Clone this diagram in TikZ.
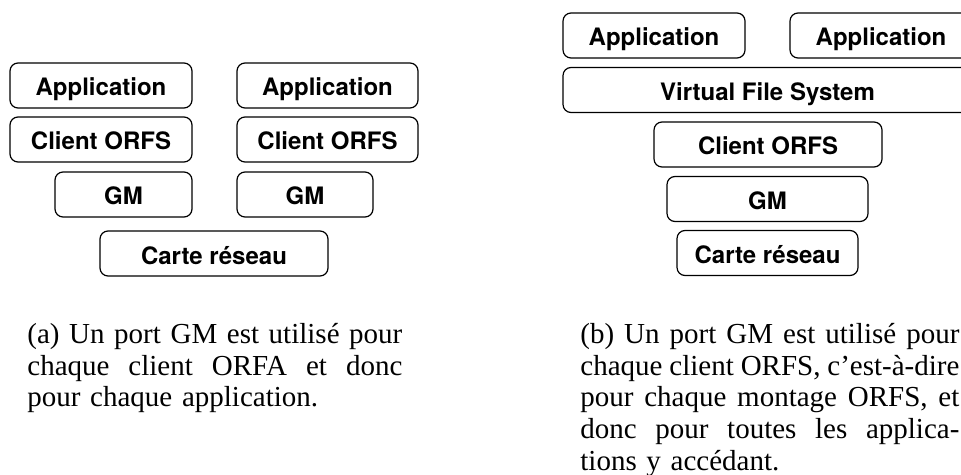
\documentclass[tikz,border=0pt]{standalone}
\usepackage{fontspec}
\setmainfont{Liberation Serif}
\setsansfont{TeX Gyre Heros}
\newcommand\cpl[2]{\leavevmode\hbox to #1{#2}}
\begin{document}
\begin{tikzpicture}[x=0.5pt,y=-0.5pt,
  layer/.style={draw, rounded corners=4pt, line width=0.6pt, inner sep=0pt,
    minimum height=22.5pt, text height=12pt, text depth=1.5pt,
    font=\sffamily\bfseries\fontsize{12}{14}\selectfont},
  captxt/.style={anchor=base west, inner sep=0pt, align=left,
    font=\fontsize{14.5}{15.85}\selectfont}]
\useasboundingbox (0,0) rectangle (961,475);
\clip (0,0) rectangle (961,475);
% (a)
\node[layer, minimum width=91pt]   (appA1) at (101,85.5)   {Application};
\node[layer, minimum width=90.5pt] (appA2) at (327.5,85.5) {Application};
\node[layer, minimum width=91pt]   (cliA1) at (101,139.5)  {Client ORFS};
\node[layer, minimum width=90.5pt] (cliA2) at (327.5,139.5){Client ORFS};
\node[layer, minimum width=68.5pt] (gmA1)  at (123.5,194.5){GM};
\node[layer, minimum width=68pt]   (gmA2)  at (305,194.5)  {GM};
\node[layer, minimum width=114pt]  (netA)  at (214,253.5)  {Carte réseau};
% (b)
\node[layer, minimum width=91pt]   (appB1) at (654,35.5)   {Application};
\node[layer, minimum width=91pt]   (appB2) at (881,35.5)   {Application};
\node[layer, minimum width=204.5pt](vfsB)  at (767.5,90)   {Virtual File System};
\node[layer, minimum width=114pt]  (cliB)  at (768,144.5)  {Client ORFS};
\node[layer, minimum width=100.5pt](gmB)   at (767.5,199)  {GM};
\node[layer, minimum width=90.5pt] (netB)  at (767.5,253)  {Carte réseau};
% captions
\node[captxt, text width=188pt] (capA) at (27,343.5)
  {\cpl{187.5pt}{(a)\hfill Un\hfill port\hfill GM\hfill est\hfill utilisé\hfill pour}\\
   \cpl{187.5pt}{chaque\hfill client\hfill ORFA\hfill et\hfill donc}\\
   pour chaque application.};
\node[captxt, text width=190pt] (capB) at (580,343.5)
  {\cpl{189.5pt}{(b)\hfill Un\hfill port\hfill GM\hfill est\hfill utilisé\hfill pour}\\
   \cpl{189.5pt}{chaque\hfill client\hfill ORFS,\hfill c’est-à-dire}\\
   \cpl{189.5pt}{pour\hfill chaque\hfill montage\hfill ORFS,\hfill et}\\
   \cpl{189.5pt}{donc\hfill pour\hfill toutes\hfill les\hfill applica-}\\
   tions y accédant.};
\end{tikzpicture}
\end{document}
